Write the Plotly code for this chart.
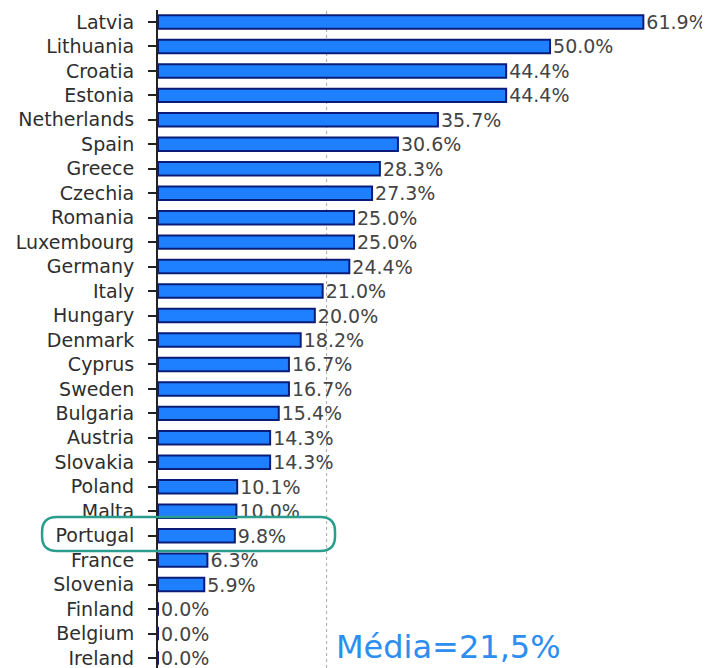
import plotly.graph_objects as go

countries = ["Latvia", "Lithuania", "Croatia", "Estonia", "Netherlands", "Spain", "Greece",
             "Czechia", "Romania", "Luxembourg", "Germany", "Italy", "Hungary", "Denmark",
             "Cyprus", "Sweden", "Bulgaria", "Austria", "Slovakia", "Poland", "Malta",
             "Portugal", "France", "Slovenia", "Finland", "Belgium", "Ireland"]
values = [61.9, 50.0, 44.4, 44.4, 35.7, 30.6, 28.3, 27.3, 25.0, 25.0, 24.4, 21.0, 20.0, 18.2,
          16.7, 16.7, 15.4, 14.3, 14.3, 10.1, 10.0, 9.8, 6.3, 5.9, 0.0, 0.0, 0.0]
mean_value = 21.5
mean_label = "Média=21,5%"
highlight = "Portugal"

labels = [f"{v:.1f}%" for v in values]

fig = go.Figure(go.Bar(
    x=values, y=countries, orientation="h",
    marker=dict(color="#1f80ff", line=dict(color="#0a1c78", width=2)),
    width=0.55,
    text=labels, textposition="outside", cliponaxis=False, constraintext="none",
    textfont=dict(family="DejaVu Sans", size=19, color="#444444"),
    hoverinfo="skip",
))

fig.add_shape(type="line", xref="x", yref="paper", x0=mean_value, x1=mean_value, y0=0, y1=1,
              line=dict(color="#aaaaaa", width=1, dash="3px,3px"), layer="below")

# rounded highlight box around the highlighted row (paper coordinates)
x0, x1, y0, y1 = -0.210, 0.3207, 0.1778, 0.2295
rx, ry = 0.027, 0.022
path = (f"M {x0+rx},{y0} L {x1-rx},{y0} Q {x1},{y0} {x1},{y0+ry} "
        f"L {x1},{y1-ry} Q {x1},{y1} {x1-rx},{y1} L {x0+rx},{y1} "
        f"Q {x0},{y1} {x0},{y1-ry} L {x0},{y0+ry} Q {x0},{y0} {x0+rx},{y0} Z")
fig.add_shape(type="path", xref="paper", yref="paper", path=path,
              line=dict(color="#2a9d8f", width=2.5))

fig.add_annotation(text=mean_label, xref="paper", yref="paper", x=0.319, y=0.0,
                   xanchor="left", yanchor="bottom", showarrow=False, yshift=0,
                   font=dict(family="DejaVu Sans", size=32, color="#2b8ef0"))

fig.update_layout(
    width=702, height=660,
    margin=dict(l=150, r=0, t=2, b=0),
    plot_bgcolor="white", paper_bgcolor="white",
    showlegend=False,
    bargap=0.45,
)
fig.update_xaxes(range=[0, 70.4], visible=False, showgrid=False, zeroline=False,
                 automargin=False)
fig.update_yaxes(
    categoryorder="array", categoryarray=countries,
    range=[26.41, -0.49], automargin=False,
    showline=True, linecolor="#222222", linewidth=2,
    ticks="outside", ticklen=8, tickwidth=2, tickcolor="#222222",
    ticklabelstandoff=10,
    tickfont=dict(family="DejaVu Sans", size=19, color="#2e2e2e"),
    showgrid=False, zeroline=False,
)

fig.write_html("out.html")
